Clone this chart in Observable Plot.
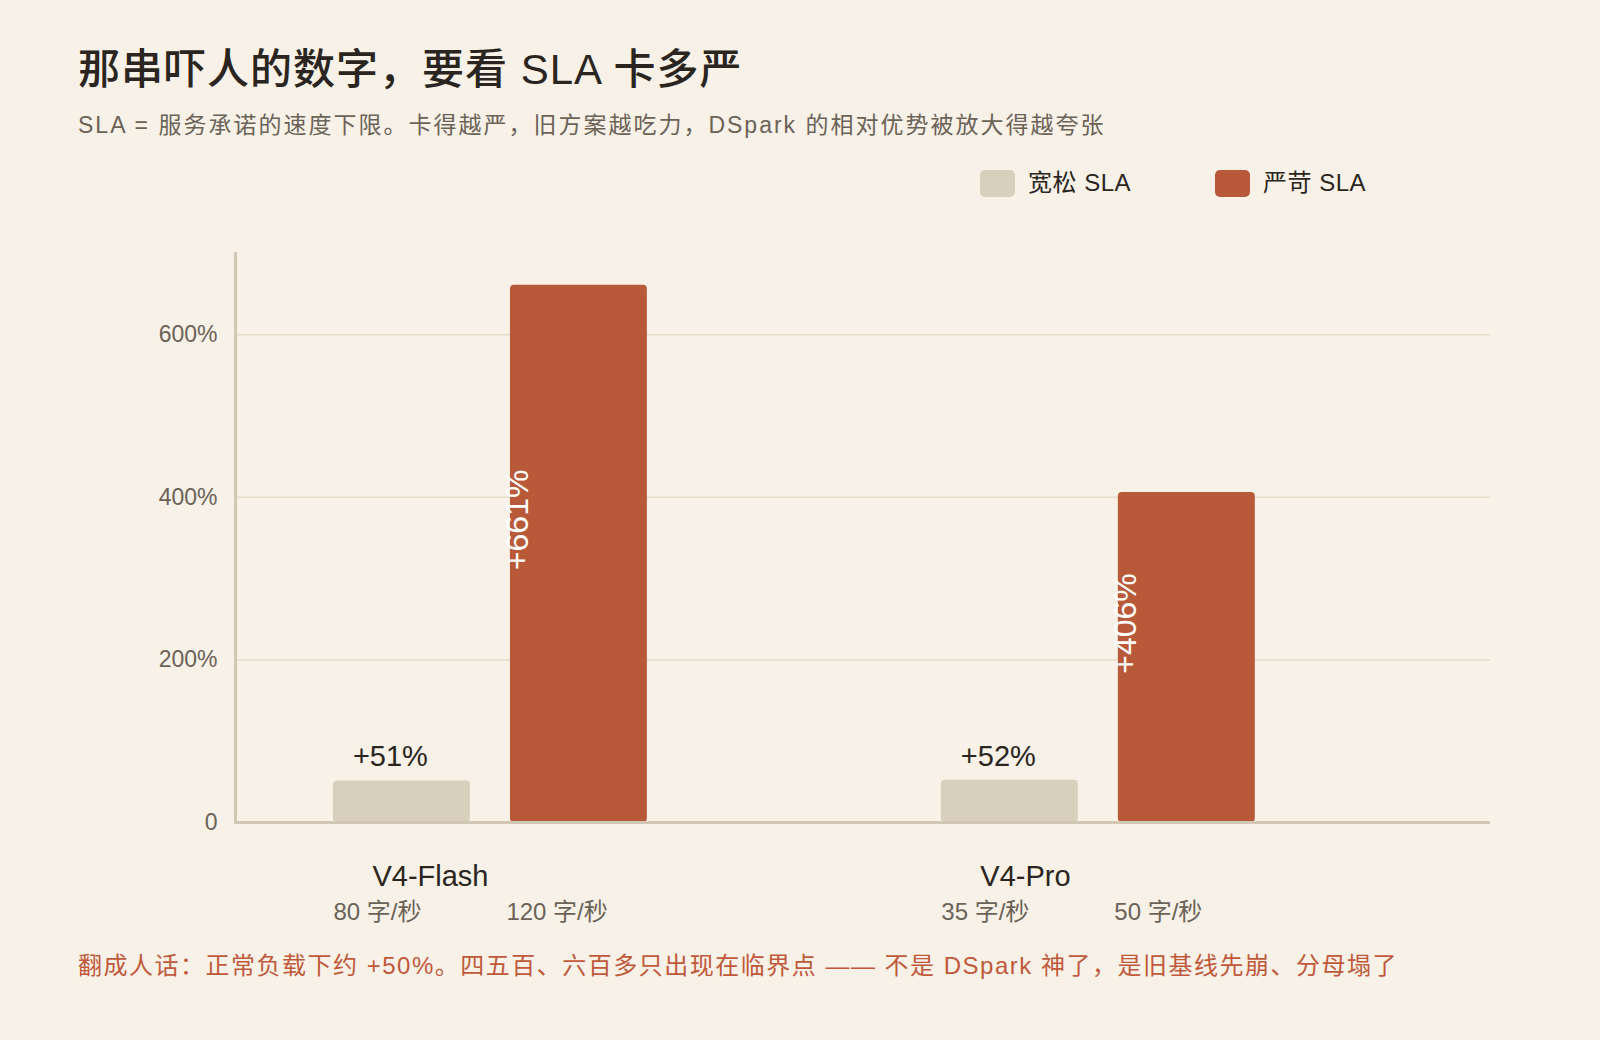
<!DOCTYPE html>
<html>
<head>
<meta charset="utf-8">
<script src="https://cdn.jsdelivr.net/npm/d3@7"></script>
<script src="https://cdn.jsdelivr.net/npm/@observablehq/plot@0.6"></script>
<style>
  html, body { margin: 0; padding: 0; background: #f8f1e7; }
  body { width: 1600px; height: 1040px; position: relative; font-family: "Liberation Sans", "Noto Sans CJK SC", sans-serif; color: #2a2520; }
  #title { position: absolute; left: 78px; top: 43px; font-size: 42px; line-height: 54px; font-weight: 500; letter-spacing: 1px; color: #2a2520; }
  #subtitle { position: absolute; left: 78px; top: 109px; font-size: 23px; line-height: 32px; letter-spacing: 2px; color: #6b6258; }
  #legend { position: absolute; top: 168px; left: 980px; display: flex; font-size: 24px; line-height: 30px; color: #2a2520; letter-spacing: 0.5px; }
  .item { display: flex; align-items: center; margin-right: 84px; }
  .sw { width: 35px; height: 27px; border-radius: 5px; margin-right: 13px; }
  #chart { position: absolute; left: 0; top: 220px; }
  #caption { position: absolute; left: 78px; top: 950px; font-size: 24px; line-height: 32px; letter-spacing: 1.5px; color: #c0593b; }
</style>
</head>
<body>
<div id="title"></div>
<div id="subtitle"></div>
<div id="legend"></div>
<div id="chart"></div>
<div id="caption"></div>
<script>
const models = ["V4-Flash", "V4-Pro"];
const slaNames = ["宽松 SLA", "严苛 SLA"];
const slaColors = ["#d9cfbd", "#b85a3a"];
const looseGain = [51, 52];      // % speedup under loose SLA
const strictGain = [661, 406];   // % speedup under strict SLA
const looseSpeed = [80, 35];     // 字/秒
const strictSpeed = [120, 50];   // 字/秒
const yTicks = [0, 200, 400, 600];

const titleText = "那串吓人的数字，要看 SLA 卡多严";
const subtitleText = "SLA = 服务承诺的速度下限。卡得越严，旧方案越吃力，DSpark 的相对优势被放大得越夸张";
const captionText = "翻成人话：正常负载下约 +50%。四五百、六百多只出现在临界点 —— 不是 DSpark 神了，是旧基线先崩、分母塌了";

document.getElementById("title").textContent = titleText;
document.getElementById("subtitle").textContent = subtitleText;
document.getElementById("caption").textContent = captionText;
const legend = document.getElementById("legend");
slaNames.forEach((n, i) => {
  const it = document.createElement("div");
  it.className = "item";
  it.innerHTML = `<div class="sw" style="background:${slaColors[i]}"></div><span>${n}</span>`;
  legend.appendChild(it);
});

const loose = models.map((m, i) => ({model: m, value: looseGain[i], speed: looseSpeed[i]}));
const strict = models.map((m, i) => ({model: m, value: strictGain[i], speed: strictSpeed[i]}));

const font = "'Liberation Sans', 'Noto Sans CJK SC', sans-serif";
const chart = Plot.plot({
  width: 1600,
  height: 712,
  marginLeft: 235,
  marginRight: 110,
  marginTop: 33,
  marginBottom: 110,
  style: {background: "transparent", fontFamily: font, overflow: "visible"},
  x: {domain: models, paddingInner: 0.4836, paddingOuter: 0.274, align: 0.294, round: false, axis: null},
  y: {domain: [0, 700], axis: null, label: null},
  marks: [
    Plot.gridY(yTicks.filter(d => d > 0), {stroke: "#e6dccb", strokeOpacity: 1, strokeWidth: 1.5}),
    Plot.axisY(yTicks, {tickSize: 0, tickPadding: 18, fontSize: 23, fill: "#6b6258", label: null,
      letterSpacing: "1px", tickFormat: d => d === 0 ? "0" : d + "%"}),
    Plot.frame({anchor: "left", stroke: "#d2c7b4", strokeWidth: 3}),
    Plot.barY(loose, {x: "model", y: "value", fill: slaColors[0], insetRight: 177, rx: 4}),
    Plot.barY(strict, {x: "model", y: "value", fill: slaColors[1], insetLeft: 177, rx: 4}),
    Plot.ruleY([0], {stroke: "#d2c7b4", strokeWidth: 3}),
    Plot.text(loose, {x: "model", y: "value", text: d => "+" + d.value + "%", dx: -100, dy: -24,
      fontSize: 29, fill: "#2a2520"}),
    Plot.text(strict, {x: "model", y: d => d.value / 2, text: d => "+" + d.value + "%", rotate: -90,
      dx: 27, dy: -34, fontSize: 32, fill: "#ffffff"}),
    Plot.text(models, {x: d => d, text: d => d, frameAnchor: "bottom", textAnchor: "start",
      dx: -118, dy: 63, fontSize: 29, fill: "#2a2520"}),
    Plot.text(loose, {x: "model", text: d => d.speed + " 字/秒", frameAnchor: "bottom", textAnchor: "start",
      dx: -157, dy: 97, fontSize: 24, letterSpacing: "1px", fill: "#6b6258"}),
    Plot.text(strict, {x: "model", text: d => d.speed + " 字/秒", frameAnchor: "bottom", textAnchor: "start",
      dx: 16, dy: 97, fontSize: 24, letterSpacing: "1px", fill: "#6b6258"})
  ]
});
chart.querySelectorAll("g[aria-label='y-axis tick label'] text, g[aria-label='text'] text").forEach(t => {});
document.getElementById("chart").appendChild(chart);
</script>
</body>
</html>
